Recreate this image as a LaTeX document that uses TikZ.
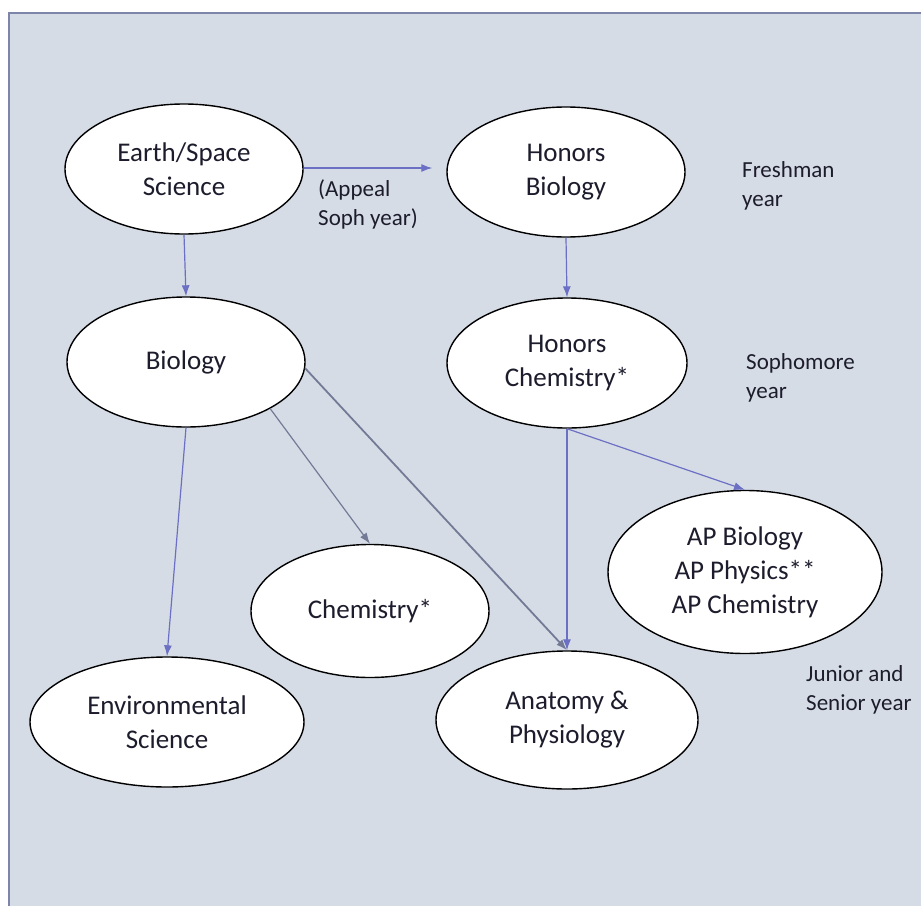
\documentclass[tikz,border=0pt]{standalone}
\usepackage{fontspec}
\setmainfont{Carlito}
\usetikzlibrary{shapes.geometric,arrows.meta}
\definecolor{panel}{HTML}{D6DCE6}
\definecolor{frameline}{HTML}{7D86A8}
\definecolor{arrowblue}{HTML}{6B70C4}
\definecolor{arrowgrey}{HTML}{737A95}
\definecolor{inkdark}{HTML}{1C1C2C}
\tikzset{
  course/.style={ellipse,draw=black,line width=1.4pt,fill=white,inner sep=0pt,
    align=center,text=inkdark,font=\fontsize{27}{34}\selectfont},
  yearlabel/.style={align=left,anchor=west,inner sep=0pt,text=inkdark,
    font=\fontsize{23}{29}\selectfont},
  link/.style={draw=arrowblue,line width=1.2pt,-{Latex[length=11pt,width=8pt]}}
}
\begin{document}
\begin{tikzpicture}[x=1pt,y=-1pt]
\useasboundingbox (0,0) rectangle (921,905);
\fill[panel] (9,13) rectangle (930,915);
\draw[frameline,line width=2pt] (930,13) -- (9,13) -- (9,915);

\node[course,minimum width=238pt,minimum height=130pt] (earth) at (184,169) {Earth/Space\\Science};
\node[course,minimum width=238pt,minimum height=130pt] (hbio) at (566,172) {Honors\\Biology};
\node[course,minimum width=238pt,minimum height=130pt] (bio) at (186,362) {Biology};
\node[course,minimum width=240pt,minimum height=130pt] (hchem) at (567,363) {Honors\\Chemistry*};
\node[course,minimum width=274pt,minimum height=163pt] (ap) at (745,572) {AP Biology\\AP Physics**\\AP Chemistry};
\node[course,minimum width=238pt,minimum height=133pt] (chem) at (370,611) {Chemistry*};
\node[course,minimum width=274pt,minimum height=130pt] (env) at (167,722) {Environmental\\Science};
\node[course,minimum width=262pt,minimum height=138pt] (anat) at (567,720) {Anatomy \&\\Physiology};

\node[yearlabel] (fresh) at (742,186) {Freshman\\year};
\node[yearlabel] (soph) at (746,378) {Sophomore\\year};
\node[yearlabel] (junsen) at (806,690) {Junior and\\Senior year};
\node[yearlabel] (appeal) at (318,204) {(Appeal\\Soph year)};

\draw[link,shorten >=14pt] (earth.east |- 0,168) -- (hbio.west |- 0,168);
\draw[link] (earth.south) -- (bio.north);
\draw[link] (hbio.south) -- (hchem.north);
\draw[link] (bio.south) -- (env.north);
\draw[link,draw=arrowgrey] (bio.-29) -- (chem.north);
\draw[link,draw=arrowgrey,line width=1.8pt] (bio.-3) -- (anat.north);
\draw[link] (hchem.south) -- (anat.north);
\draw[link] (hchem.south) -- (ap.north);

\end{tikzpicture}
\end{document}
